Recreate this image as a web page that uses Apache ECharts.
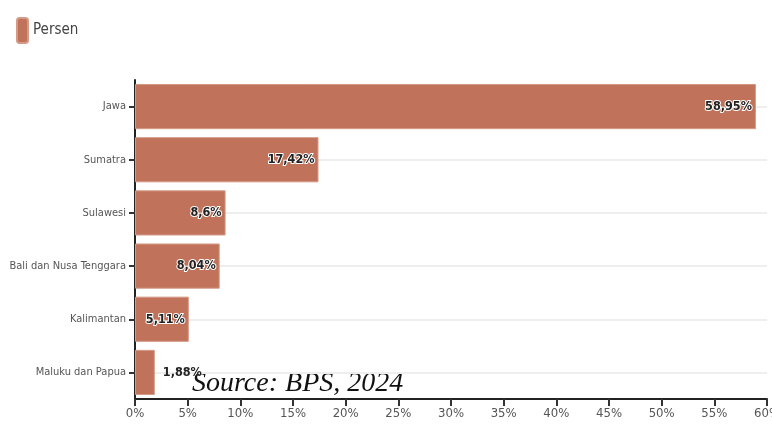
<!DOCTYPE html>
<html><head><meta charset="utf-8">
<script src="https://cdn.jsdelivr.net/npm/echarts@6/dist/echarts.min.js"></script>
<style>html,body{margin:0;padding:0;background:#fff}#c{width:772px;height:432px}</style>
</head><body><div id="c"></div>
<script>
const categories = ['Jawa', 'Sumatra', 'Sulawesi', 'Bali dan Nusa Tenggara', 'Kalimantan', 'Maluku dan Papua'];
const persen = [58.95, 17.42, 8.6, 8.04, 5.11, 1.88];
const xTicks = [0, 5, 10, 15, 20, 25, 30, 35, 40, 45, 50, 55, 60];
const seriesName = 'Persen';
const sourceText = 'Source: BPS, 2024';

const FONT = '"Liberation Sans Narrow", "DejaVu Sans Condensed", "Noto Sans", sans-serif';
const chart = echarts.init(document.getElementById('c'), null, {renderer: 'canvas'});
chart.setOption({
  animation: false,
  backgroundColor: '#fff',
  legend: {
    left: 11, top: 12, itemWidth: 11, itemHeight: 25, itemGap: 5,
    icon: 'roundRect',
    textStyle: {fontFamily: FONT, fontSize: 15, color: '#444'},
    data: [seriesName]
  },
  grid: {left: 135, right: 5, top: 80, bottom: 33, containLabel: false, outerBoundsMode: 'none'},
  xAxis: {
    type: 'value', min: xTicks[0], max: xTicks[xTicks.length - 1], interval: 5,
    axisLine: {show: true, lineStyle: {color: '#222', width: 2}},
    axisTick: {show: true, length: 7, lineStyle: {color: '#333', width: 2}},
    splitLine: {show: false},
    axisLabel: {formatter: v => v + '%', fontFamily: FONT, fontSize: 13, color: '#555', margin: 8}
  },
  yAxis: {
    type: 'category', inverse: true, data: categories,
    axisLine: {show: true, lineStyle: {color: '#222', width: 2}},
    axisTick: {show: true, alignWithLabel: true, length: 6, lineStyle: {color: '#333', width: 2}},
    splitLine: {show: true, alignWithLabel: true, lineStyle: {color: '#eee', width: 2}},
    axisLabel: {fontFamily: FONT, fontSize: 11, color: '#555', margin: 9}
  },
  series: [{
    name: seriesName, type: 'bar', data: persen.map((v, i) => ({
      value: v,
      label: i === persen.length - 1 ? {position: 'right', textBorderWidth: 0, distance: 8} : {}
    })),
    barCategoryGap: '15%',
    itemStyle: {color: '#C0735A', borderColor: '#D49A86', borderWidth: 1},
    label: {
      show: true, position: 'insideRight', distance: 4,
      formatter: p => String(p.value).replace('.', ',') + '%',
      fontFamily: FONT, fontSize: 12.5, fontWeight: 'bold', color: '#222',
      textBorderColor: '#fff', textBorderWidth: 2
    }
  }],
  graphic: [{
    type: 'text', left: 192, top: 370,
    style: {text: sourceText, font: 'italic 28px "Liberation Serif", "DejaVu Serif", serif', fill: '#111'}
  }]
});
</script></body></html>
